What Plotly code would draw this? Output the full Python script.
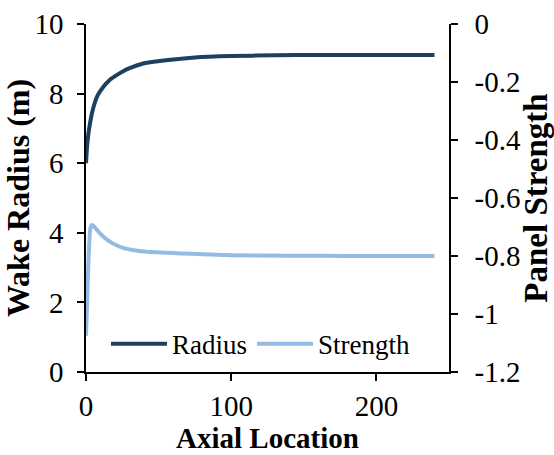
import plotly.graph_objects as go

# Wake radius along the axial direction
radius_x = [0, 0.5, 1, 2, 3, 4, 6, 8, 12, 16, 20, 25, 30, 40, 55, 75, 100, 130, 160, 200, 240]
radius_y = [6.0, 6.35, 6.6, 6.95, 7.2, 7.42, 7.73, 7.95, 8.2, 8.38, 8.5, 8.63, 8.73, 8.87,
            8.96, 9.04, 9.08, 9.1, 9.11, 9.11, 9.11]

# Panel strength along the axial direction
strength_x = [0, 0.5, 1, 1.5, 2, 2.5, 3, 4, 5, 7, 10, 13, 17, 21, 26, 32, 42, 55, 65, 80,
              100, 140, 180, 240]
strength_y = [-1.075, -1.0, -0.92, -0.84, -0.78, -0.73, -0.705, -0.693, -0.695, -0.707,
              -0.724, -0.738, -0.752, -0.763, -0.773, -0.779, -0.785, -0.789, -0.791,
              -0.794, -0.797, -0.799, -0.8, -0.8]

FONT = "Times New Roman, Liberation Serif, Tinos, serif"
RADIUS_COLOR = "#1C4060"
STRENGTH_COLOR = "#94BCE3"

fig = go.Figure()
fig.add_trace(go.Scatter(x=radius_x, y=radius_y, name="Radius", mode="lines",
                         line=dict(color=RADIUS_COLOR, width=4, shape="spline", smoothing=0.5)))
fig.add_trace(go.Scatter(x=strength_x, y=strength_y, name="Strength", mode="lines", yaxis="y2",
                         line=dict(color=STRENGTH_COLOR, width=4, shape="spline", smoothing=0.3)))

axis_common = dict(showline=True, linecolor="black", linewidth=1.5, ticks="outside",
                   ticklen=7, tickcolor="black", tickwidth=1.5, showgrid=False, zeroline=False,
                   automargin=False,
                   tickfont=dict(family=FONT, size=29, color="black"))

fig.update_layout(
    width=554, height=455,
    margin=dict(l=86, r=105, t=24, b=83),
    paper_bgcolor="white", plot_bgcolor="white",
    font=dict(family=FONT, color="black"),
    xaxis=dict(range=[0, 250], tickvals=[0, 100, 200],
               title=dict(text="<b>Axial Location</b>",
                          font=dict(family=FONT, size=29, color="black"), standoff=7),
               **axis_common),
    yaxis=dict(range=[0, 10], tickvals=[0, 2, 4, 6, 8, 10], ticklabelstandoff=8,
               title=dict(text="<b>Wake Radius (m)</b>",
                          font=dict(family=FONT, size=32, color="black"), standoff=0),
               **axis_common),
    yaxis2=dict(range=[-1.2, 0], overlaying="y", side="right", ticklabelstandoff=11,
                tickvals=[-1.2, -1, -0.8, -0.6, -0.4, -0.2, 0],
                ticktext=["-1.2", "-1", "-0.8", "-0.6", "-0.4", "-0.2", "0"],
                title=dict(text="<b>Panel Strength</b>",
                           font=dict(family=FONT, size=33, color="black"), standoff=7),
                **axis_common),
    legend=dict(orientation="h", x=0.055, y=0.08, xanchor="left", yanchor="middle",
                bgcolor="rgba(0,0,0,0)", font=dict(family=FONT, size=27, color="black"),
                itemwidth=56),
    showlegend=True,
)

fig.write_html("out.html")
